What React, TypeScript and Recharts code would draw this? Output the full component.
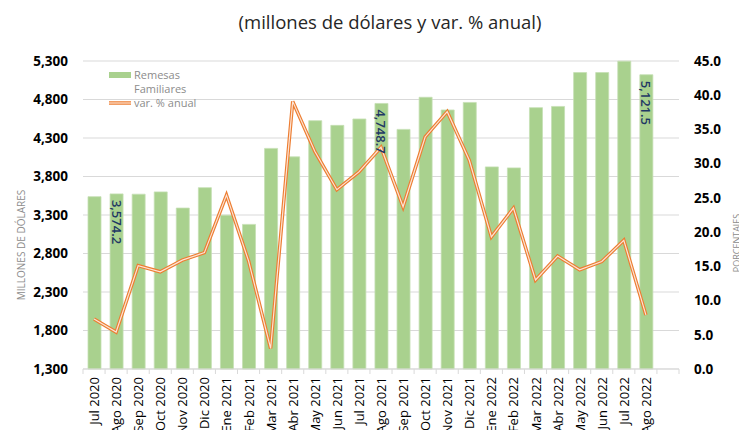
import React from "react";
import {
  ComposedChart,
  Bar,
  Line,
  XAxis,
  YAxis,
  CartesianGrid,
  LabelList,
} from "recharts";

const months = [
  "Jul 2020", "Ago 2020", "Sep 2020", "Oct 2020", "Nov 2020", "Dic 2020",
  "Ene 2021", "Feb 2021", "Mar 2021", "Abr 2021", "May 2021", "Jun 2021",
  "Jul 2021", "Ago 2021", "Sep 2021", "Oct 2021", "Nov 2021", "Dic 2021",
  "Ene 2022", "Feb 2022", "Mar 2022", "Abr 2022", "May 2022", "Jun 2022",
  "Jul 2022", "Ago 2022",
];

const remesas = [
  3538, 3574.2, 3570, 3600, 3390, 3655, 3298, 3178, 4165, 4055, 4525, 4464,
  4547, 4748.7, 4412, 4829, 4664, 4762, 3925, 3912, 4694, 4710, 5150, 5150,
  5298, 5121.5,
];

const variacion = [
  7.3, 5.4, 15.1, 14.2, 15.9, 17.0, 25.4, 15.8, 3.0, 39.1, 31.8, 26.2, 28.8,
  32.4, 23.7, 33.9, 37.6, 30.5, 19.3, 23.5, 13.0, 16.5, 14.5, 15.7, 18.8, 7.9,
];

const labeledMonths = ["Ago 2020", "Ago 2021", "Ago 2022"];

const leftTicks = [1300, 1800, 2300, 2800, 3300, 3800, 4300, 4800, 5300];
const rightTicks = [0, 5, 10, 15, 20, 25, 30, 35, 40, 45];

// trailing empty slot, like the original's spare category at the right
const data = [
  ...months.map((m, i) => ({ month: m, remesas: remesas[i], pct: variacion[i] })),
  { month: "", remesas: null, pct: null },
];

const FONT = "'Open Sans', sans-serif";
const GREEN = "#A9D18E";
const ORANGE = "#ED7D31";

const fmtMoney = (v: number) =>
  v.toLocaleString("en-US", { minimumFractionDigits: 1, maximumFractionDigits: 1 });

function MonthTick(props: any) {
  const { x, y, payload, index } = props;
  const half = payload.offset || 11;
  const last = index === data.length - 1;
  return (
    <g>
      <line x1={x - half} y1={y} x2={x - half} y2={y + 5} stroke="#d9d9d9" />
      {last && <line x1={x + half} y1={y} x2={x + half} y2={y + 5} stroke="#d9d9d9" />}
      <text
        x={x}
        y={y + 8}
        transform={`rotate(-90 ${x} ${y + 8})`}
        textAnchor="end"
        dominantBaseline="central"
        fontSize={13}
        fontFamily={FONT}
        fill="#000"
      >
        {payload.value}
      </text>
    </g>
  );
}

function BarValue(props: any) {
  const { x, y, width, index } = props;
  if (!labeledMonths.includes(months[index])) return null;
  const cx = x + width / 2;
  const ty = y + 6;
  return (
    <text
      x={cx}
      y={ty}
      transform={`rotate(90 ${cx} ${ty})`}
      textAnchor="start"
      dominantBaseline="central"
      fontSize={13}
      fontWeight={600}
      fontFamily={FONT}
      fill="#1F3864"
    >
      {fmtMoney(remesas[index])}
    </text>
  );
}

function Legend() {
  const text: React.CSSProperties = {
    fontFamily: FONT,
    fontSize: 11,
    color: "#8c8c8c",
    lineHeight: "14px",
  };
  return (
    <div style={{ position: "absolute", left: 109, top: 68, width: 120 }}>
      <div style={{ display: "flex", alignItems: "flex-start" }}>
        <div style={{ width: 22, height: 6, background: GREEN, marginTop: 4, marginRight: 3 }} />
        <div style={text}>
          Remesas
          <br />
          Familiares
        </div>
      </div>
      <div style={{ display: "flex", alignItems: "center" }}>
        <svg width={22} height={6} style={{ marginRight: 3 }}>
          <line x1={0} y1={3} x2={22} y2={3} stroke={ORANGE} strokeWidth={3.5} />
          <line x1={0} y1={3} x2={22} y2={3} stroke="#FCE4D6" strokeWidth={1.2} />
        </svg>
        <div style={text}>var. % anual</div>
      </div>
    </div>
  );
}

export default function App() {
  return (
    <div style={{ position: "absolute", left: 0, top: 0, width: 739, height: 430, background: "#fff", overflow: "hidden" }}>
      <div
        style={{
          position: "absolute",
          left: 0,
          width: 780,
          top: 9,
          textAlign: "center",
          fontFamily: FONT,
          fontSize: 18.5,
          color: "#262626",
        }}
      >
        (millones de dólares y var. % anual)
      </div>
      <ComposedChart
        width={739}
        height={430}
        data={data}
        margin={{ top: 61, right: 0, bottom: 0, left: 0 }}
      >
        <CartesianGrid yAxisId="left" vertical={false} stroke="#d9d9d9" />
        <XAxis
          dataKey="month"
          interval={0}
          height={61}
          tickSize={0}
          tickMargin={0}
          axisLine={{ stroke: "#d9d9d9" }}
          tickLine={false}
          tick={<MonthTick />}
        />
        <YAxis
          yAxisId="left"
          width={83}
          domain={[1300, 5300]}
          ticks={leftTicks}
          axisLine={false}
          tickLine={false}
          tickMargin={9}
          tickFormatter={(v: number) => v.toLocaleString("en-US")}
          tick={{ fontSize: 13.5, fontWeight: 700, fill: "#000", fontFamily: FONT }}
          label={{
            content: () => (
              <text
                x={21}
                y={245}
                transform="rotate(-90 21 245)"
                textAnchor="middle"
                dominantBaseline="central"
                fontSize={10}
                fontFamily={FONT}
                fill="#8c8c8c"
              >
                MILLONES DE DÓLARES
              </text>
            ),
          }}
        />
        <YAxis
          yAxisId="right"
          orientation="right"
          width={60}
          domain={[0, 45]}
          ticks={rightTicks}
          axisLine={false}
          tickLine={false}
          tickMargin={9}
          tickFormatter={(v: number) => v.toFixed(1)}
          tick={{ fontSize: 13.5, fontWeight: 700, fill: "#000", fontFamily: FONT }}
          label={{
            content: () => (
              <text
                x={740}
                y={243}
                transform="rotate(-90 740 243)"
                textAnchor="middle"
                fontSize={9}
                fontFamily={FONT}
                fill="#8c8c8c"
              >
                PORCENTAJES
              </text>
            ),
          }}
        />
        <Bar
          yAxisId="left"
          dataKey="remesas"
          fill={GREEN}
          stroke="#C5E0B4"
          strokeWidth={0.8}
          barSize={13}
          isAnimationActive={false}
        >
          <LabelList dataKey="remesas" content={<BarValue />} />
        </Bar>
        <Line
          yAxisId="right"
          dataKey="pct"
          stroke={ORANGE}
          strokeWidth={3.5}
          dot={false}
          activeDot={false}
          isAnimationActive={false}
        />
        <Line
          yAxisId="right"
          dataKey="pct"
          stroke="#FCE4D6"
          strokeWidth={1.2}
          dot={false}
          activeDot={false}
          isAnimationActive={false}
        />
      </ComposedChart>
      <Legend />
    </div>
  );
}
